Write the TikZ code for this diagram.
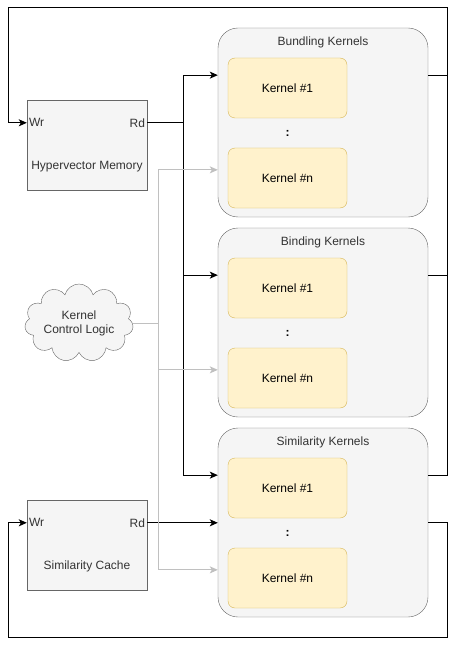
\documentclass[tikz,border=0pt]{standalone}
\usepackage{fontspec}
\setmainfont{Liberation Sans}
\usetikzlibrary{shapes.symbols,arrows.meta,positioning,calc}
\definecolor{gfill}{HTML}{F5F5F5}
\definecolor{gline}{HTML}{666666}
\definecolor{kfill}{HTML}{FFF2CC}
\definecolor{kline}{HTML}{D6B656}
\definecolor{txt}{HTML}{333333}
\definecolor{wire}{HTML}{C0C0C0}

\begin{document}
\begin{tikzpicture}[x=1pt,y=-1pt,font=\fontsize{12}{14}\selectfont,
	block/.style={draw=gline,fill=gfill,minimum width=120pt,minimum height=90pt,inner sep=0pt},
	group/.style={draw=gline,fill=gfill,rounded corners=20pt,minimum width=210pt,minimum height=189pt,inner sep=0pt},
	kernel/.style={draw=kline,fill=kfill,rounded corners=7pt,minimum width=119pt,minimum height=60pt,inner sep=0pt},
	port/.style={text=txt,inner sep=2pt},
	arr/.style={line width=1pt,-{Stealth[length=8pt,width=7pt,inset=2pt]}},
	garr/.style={wire,line width=1pt,-{Stealth[length=8pt,width=7pt,inset=2pt]}}]
\useasboundingbox (0,0) rectangle (457,647);

% memories
\node [block] (hvm) at (87,145) {};
\node [port,anchor=west] (hvmwr) at ($(hvm.north west)+(0,23)$) {Wr};
\node [port,anchor=east] (hvmrd) at ($(hvm.north east)+(0,23)$) {Rd};
\node [text=txt] at ($(hvm.north)+(0,67)$) {Hypervector Memory};

\node [block] (simc) at (87,545) {};
\node [port,anchor=west] (simcwr) at ($(simc.north west)+(0,23)$) {Wr};
\node [port,anchor=east] (simcrd) at ($(simc.north east)+(0,23)$) {Rd};
\node [text=txt] at ($(simc.north)+(0,67)$) {Similarity Cache};

\node [cloud,cloud puffs=11,aspect=1.7,draw=gline,fill=gfill,text=txt,align=center,
	minimum width=108pt,minimum height=68pt,inner sep=0pt] (ctrl) at (79,323) {Kernel\\Control Logic};

% kernel groups
\foreach \g/\t/\y in {bund/Bundling/28,bind/Binding/228,simk/Similarity/428}{
	\node [group] (\g) at (323,\y+94.5) {};
	\node [text=txt] at ($(\g.north)+(0,15)$) {\t\ Kernels};
	\node [kernel] (\g1) at (287.5,\y+60) {Kernel \#1};
	\node [kernel] (\g n) at (287.5,\y+150) {Kernel \#n};
	\path (\g1) -- (\g n) node [midway] {\bfseries :};
	\coordinate (\g-a) at ($(\g.north west)!0.25!(\g.south west)$);
	\coordinate (\g-c) at ($(\g.north west)!0.75!(\g.south west)$);
	\coordinate (\g-r) at ($(\g.north east)!0.25!(\g.south east)$);
}

\coordinate (bbus) at (183,0);
\coordinate (gbus) at (158,0);
\coordinate (rtop) at (447,8);
\coordinate (ltop) at (8,8);
\coordinate (rbot) at (447,637);
\coordinate (lbot) at (8,637);

% read paths
\foreach \g in {bund,bind,simk}
	\draw [arr] (hvm.east |- hvmrd) -| (bbus |- \g-a) -- (\g-a);
\draw [arr] (simc.east |- simcrd) -- (simcrd -| simk.west);

% control
\foreach \g in {bund,bind,simk}
	\draw [garr] (ctrl.east) -| (gbus |- \g-c) -- (\g-c);

% write back
\draw [arr] (simk-r) -| (rtop) -- (ltop) |- (hvm.west |- hvmwr);
\draw [line width=1pt] (bund-r) -- (bund-r -| rtop);
\draw [line width=1pt] (bind-r) -- (bind-r -| rtop);
\draw [arr] (simk.east |- simcrd) -| (rbot) -- (lbot) |- (simc.west |- simcwr);
\end{tikzpicture}
\end{document}
